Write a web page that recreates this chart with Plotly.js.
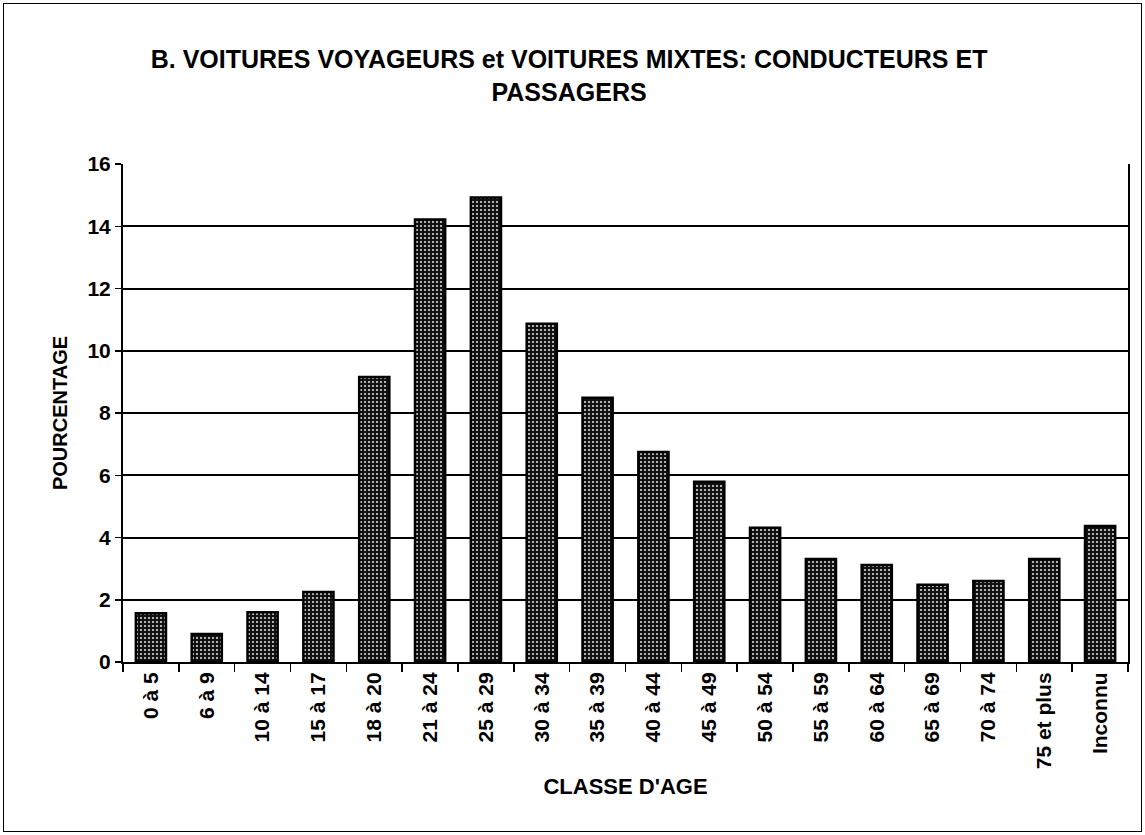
<!DOCTYPE html>
<html>
<head>
<meta charset="utf-8">
<script src="https://cdn.plot.ly/plotly-3.0.1.min.js"></script>
<style>
html,body{margin:0;padding:0;background:#fff;}
#frame{position:absolute;left:3px;top:3px;width:1139px;height:829px;border:1px solid #000;box-sizing:border-box;}
#chart{position:absolute;left:0;top:0;width:1145px;height:835px;}
</style>
</head>
<body>
<div id="chart"></div>
<div id="frame"></div>
<script>
const categories = ["0 à 5","6 à 9","10 à 14","15 à 17","18 à 20","21 à 24","25 à 29","30 à 34","35 à 39","40 à 44","45 à 49","50 à 54","55 à 59","60 à 64","65 à 69","70 à 74","75 et plus","Inconnu"];
const percentages = [1.57,0.9,1.6,2.25,9.16,14.22,14.92,10.87,8.49,6.75,5.79,4.31,3.31,3.12,2.48,2.6,3.31,4.37];
const yTicks = [0,2,4,6,8,10,12,14,16];

const FONT = "Liberation Sans, Arial, sans-serif";

const trace = {
  type: "bar",
  x: categories,
  y: percentages,
  marker: {
    color: "#111",
    pattern: {shape: ".", fgcolor: "#ffffff", bgcolor: "#111111", size: 4, solidity: 0.16, fillmode: "replace"},
    line: {color: "#000", width: 2.5}
  },
  hoverinfo: "x+y"
};

const layout = {
  width: 1145, height: 835,
  paper_bgcolor: "#fff", plot_bgcolor: "#fff",
  font: {family: FONT, size: 17, color: "#000", weight: 700},
  margin: {l: 123, r: 17, t: 164, b: 173},
  showlegend: false,
  bargap: 0.46,
  title: {
    text: "B. VOITURES VOYAGEURS et VOITURES MIXTES: CONDUCTEURS ET<br>PASSAGERS",
    font: {family: FONT, size: 25, color: "#000", weight: 700},
    x: 0.497, xanchor: "center", xref: "container", y: 0.918, yanchor: "top", yref: "container"
  },
  xaxis: {
    type: "category",
    tickangle: 270,
    tickfont: {family: FONT, size: 21, weight: 700},
    ticks: "outside", ticklen: 8, tickwidth: 1.5, tickcolor: "#000",
    tickson: "boundaries",
    showline: true, linecolor: "#000", linewidth: 2,
    showgrid: false,
    automargin: false,
    title: {text: "CLASSE D'AGE", font: {family: FONT, size: 22, color: "#000", weight: 700}, standoff: 10}
  },
  yaxis: {
    range: [0, 16],
    tickvals: yTicks,
    ticktext: yTicks.map(String),
    tickfont: {family: FONT, size: 21, weight: 700},
    ticks: "outside", ticklen: 6, tickwidth: 1.5, tickcolor: "#000",
    showline: true, linecolor: "#000", linewidth: 2, mirror: true,
    showgrid: true, gridcolor: "#000", gridwidth: 2,
    zeroline: false,
    automargin: false,
    title: {text: "POURCENTAGE", font: {family: FONT, size: 20, color: "#000", weight: 700}, standoff: 14}
  }
};

Plotly.newPlot("chart", [trace], layout, {displayModeBar: false, staticPlot: true});
</script>
</body>
</html>
